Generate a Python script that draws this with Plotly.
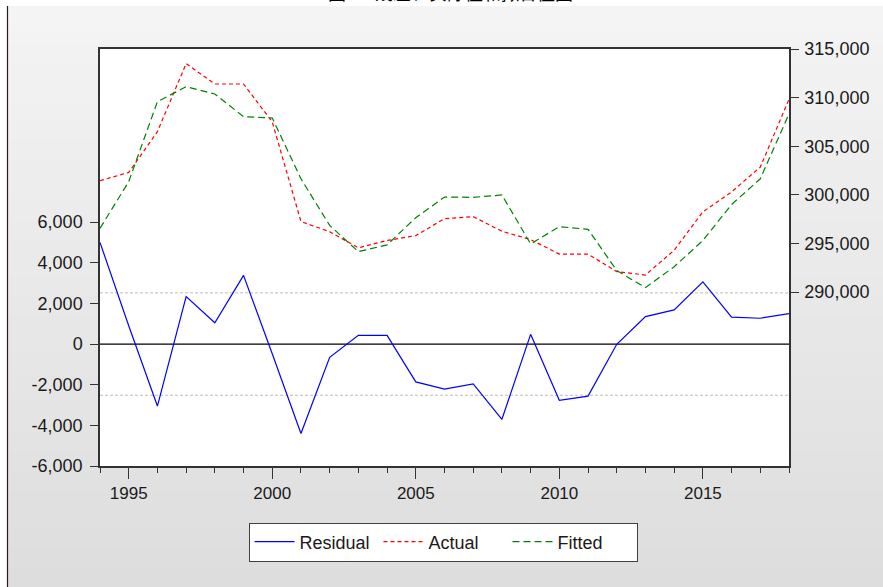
import plotly.graph_objects as go

# ---------------- data ----------------
years = list(range(1994, 2019))
residual = [5000, 900, -3050, 2340, 1050, 3380, -480, -4400, -650, 430, 430, -1860, -2220,
            -1960, -3700, 480, -2770, -2560, -10, 1350, 1680, 3060, 1330, 1270, 1500]
actual = [301450, 302300, 306500, 313500, 311400, 311400, 307500, 297250, 296200, 294550,
          295300, 295800, 297550, 297750, 296250, 295400, 293900, 293900, 292100, 291750,
          294300, 298250, 300300, 302850, 309830]
fitted = [296550, 301350, 309580, 311120, 310370, 308040, 307900, 301650, 296850, 294150,
          294850, 297650, 299770, 299740, 299980, 294950, 296720, 296450, 292200, 290450,
          292600, 295300, 299000, 301650, 308320]
std_err = 2520
left_ticks = [-6000, -4000, -2000, 0, 2000, 4000, 6000]
right_ticks = [290000, 295000, 300000, 305000, 310000, 315000]
x_ticks = [1995, 2000, 2005, 2010, 2015]
title_text = "图4.1 残差、实际值和拟合值图"

# ---------------- geometry helpers (pixel -> paper) ----------------
W, H = 883, 587
L, R, T, B = 100, 789, 49, 466
pw, ph = R - L, B - T

def px(x):
    return (x - L) / pw

def py(y):
    return (B - y) / ph

shapes = []
n = 30
c0, c1 = 0xF4, 0xDD
y_top = 6
for i in range(n):
    ya = y_top + (H - y_top) * i / n
    yb = y_top + (H - y_top) * (i + 1) / n + 1
    c = round(c0 + (c1 - c0) * (i + 0.5) / n)
    col = f"rgb({c},{c},{c})"
    shapes.append(dict(type="rect", xref="paper", yref="paper", layer="below",
                       x0=px(8), x1=px(W + 2), y0=py(yb), y1=py(ya),
                       fillcolor=col, line=dict(width=0)))
shapes.append(dict(type="line", xref="paper", yref="paper", layer="below",
                   x0=px(7.5), x1=px(7.5), y0=py(H + 2), y1=py(y_top),
                   line=dict(color="#2a1a1a", width=1.2)))
shapes.append(dict(type="rect", xref="paper", yref="paper", layer="below",
                   x0=0, x1=1, y0=0, y1=1, fillcolor="white", line=dict(width=0)))
for v in (std_err, -std_err):
    shapes.append(dict(type="line", xref="paper", yref="y", layer="below",
                       x0=0, x1=1, y0=v, y1=v,
                       line=dict(color="#bdbdbd", width=1, dash="3px,2px")))
shapes.append(dict(type="line", xref="paper", yref="y", layer="below",
                   x0=0, x1=1, y0=0, y1=0, line=dict(color="black", width=1.2)))

fig = go.Figure()
fig.add_trace(go.Scatter(x=years, y=residual, name="Residual", mode="lines",
                         line=dict(color="#0000ff", width=1.2), yaxis="y"))
fig.add_trace(go.Scatter(x=years, y=actual, name="Actual", mode="lines",
                         line=dict(color="#ff0000", width=1.2, dash="4px,3px"), yaxis="y2"))
fig.add_trace(go.Scatter(x=years, y=fitted, name="Fitted", mode="lines",
                         line=dict(color="#008000", width=1.2, dash="7px,4px"), yaxis="y2"))

axis_font = dict(family="Liberation Sans, Arial, sans-serif", size=18, color="#1a1a1a")

fig.update_layout(
    width=W, height=H,
    margin=dict(l=L, r=W - R, t=T, b=H - B, pad=0, autoexpand=False),
    paper_bgcolor="white",
    plot_bgcolor="white",
    showlegend=True,
    shapes=shapes,
    xaxis=dict(range=[1994, 2018], tickvals=x_ticks, automargin=False,
               ticks="outside", ticklen=11, tickcolor="#333", tickwidth=1,
               minor=dict(tickvals=years, ticks="outside", ticklen=5,
                          tickcolor="#333", tickwidth=1, showgrid=False),
               showgrid=False, zeroline=False, showline=True, linecolor="#333",
               linewidth=1.5, mirror=True,
               tickfont=dict(family="Liberation Sans Narrow, Arial Narrow, Liberation Sans, sans-serif",
                             size=17, color="#1a1a1a")),
    yaxis=dict(range=[-6000, 14520], tickvals=left_ticks,
               ticktext=[f"{v:,}" for v in left_ticks], automargin=False,
               ticks="outside", ticklen=8, tickcolor="#333", tickwidth=1,
               showgrid=False, zeroline=False, showline=True, linecolor="#333",
               linewidth=1.5, tickfont=axis_font, ticklabelstandoff=4),
    yaxis2=dict(range=[272100, 315000], tickvals=right_ticks,
                ticktext=[f"{v:,}" for v in right_ticks], automargin=False,
                overlaying="y", side="right",
                ticks="outside", ticklen=8, tickcolor="#333", tickwidth=1,
                showgrid=False, zeroline=False, showline=True, linecolor="#333",
                linewidth=1.5, tickfont=axis_font, ticklabelstandoff=2),
    legend=dict(orientation="h", x=px(443), xanchor="center", y=py(542), yanchor="middle",
                bgcolor="white", bordercolor="#404040", borderwidth=1,
                font=dict(family="Liberation Sans, Arial, sans-serif", size=18, color="#1a1a1a"),
                itemwidth=40, entrywidth=74, entrywidthmode="pixels"),
    annotations=[dict(text=title_text, xref="paper", yref="paper", x=px(450), y=py(7),
                      xanchor="center", yanchor="bottom", showarrow=False,
                      font=dict(family="Noto Sans CJK SC, sans-serif", size=18, color="black"))],
)

fig.write_html("out.html", config={"displayModeBar": False},
               post_script="document.body.style.margin='0px';")
